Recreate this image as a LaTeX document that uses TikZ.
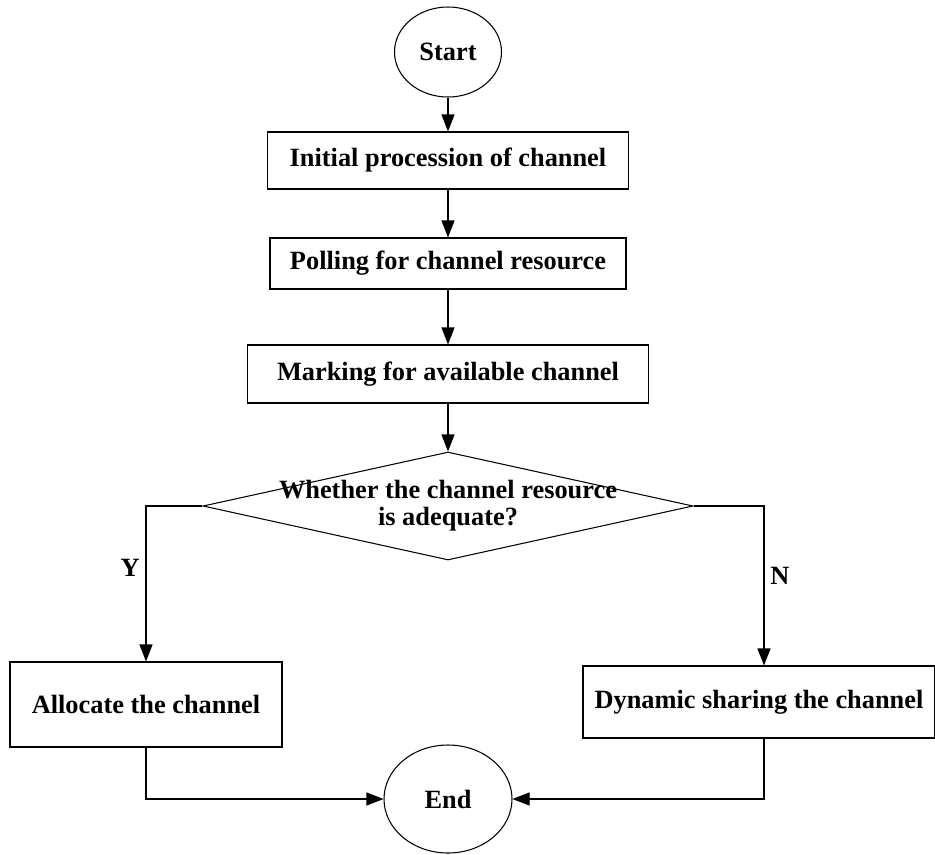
\documentclass[tikz,border=0pt]{standalone}
\usepackage{fontspec}
\setmainfont{Liberation Serif}
\usetikzlibrary{shapes.geometric,positioning,arrows.meta}

\begin{document}
\begin{tikzpicture}[line width=0.6pt, >={Triangle[length=0.34cm,width=0.26cm]}, on grid,
    every node/.style={font=\bfseries\fontsize{15}{15.5}\selectfont},
    term/.style={draw, ellipse, inner sep=0pt},
    proc/.style={draw, rectangle, inner sep=0pt},
    decision/.style={draw, diamond, minimum width=9.8cm, minimum height=2.16cm, inner sep=0pt}]

    \useasboundingbox (0,0) rectangle (18.7,-17.08);

    \node[term, minimum width=2.14cm, minimum height=1.8cm] (start) at (8.96,-1.04) {Start};
    \node[proc, minimum width=7.22cm, minimum height=1.14cm] (init) [below=2.17cm of start] {Initial procession of channel};
    \node[proc, minimum width=7.12cm, minimum height=1.02cm] (poll) [below=2.06cm of init] {Polling for channel resource};
    \node[proc, minimum width=8.02cm, minimum height=1.16cm] (mark) [below=2.21cm of poll] {Marking for available channel};
    \node[decision] (chk) [below=2.64cm of mark] {};
    \node[align=center] (chktext) at (chk) {Whether the channel resource\\is adequate?};
    \node[proc, minimum width=5.44cm, minimum height=1.7cm] (alloc) [below left=3.97cm and 6.04cm of chk] {Allocate the channel};
    \node[proc, minimum width=7.04cm, minimum height=1.44cm] (share) [below right=3.92cm and 6.22cm of chk] {Dynamic sharing the channel};
    \node[term, minimum width=2.56cm, minimum height=2.16cm] (done) [below=5.86cm of chk] {End};

    \path[->]
        (start) edge (init)
        (init) edge (poll)
        (poll) edge (mark)
        (mark) edge (chk);

    \draw[->] (chk.west) -| node[pos=0.7, left] {Y} (alloc.north);
    \draw[->] (chk.east) -| node[pos=0.72, right] {N} ([xshift=0.1cm]share.north);
    \draw[->] (alloc.south) |- (done.west);
    \draw[->] ([xshift=0.1cm]share.south) |- (done.east);

\end{tikzpicture}
\end{document}
